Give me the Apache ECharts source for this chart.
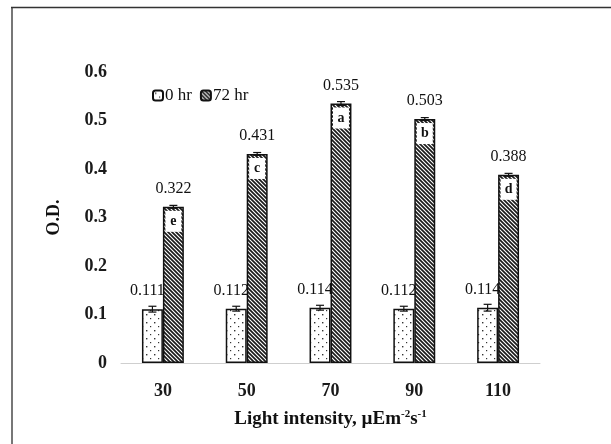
<!DOCTYPE html>
<html><head><meta charset="utf-8">
<script src="https://cdn.jsdelivr.net/npm/echarts@6/dist/echarts.min.js"></script>
<style>html,body{margin:0;padding:0;background:#fff}#c{width:611px;height:444px}</style>
</head><body><div id="c"></div>
<script>
var categories = ['30', '50', '70', '90', '110'];
var seriesNames = ['0 hr', '72 hr'];
var values0 = [0.111, 0.112, 0.114, 0.112, 0.114];
var values72 = [0.322, 0.431, 0.535, 0.503, 0.388];
var err0 = [0.006, 0.005, 0.005, 0.005, 0.007];
var err72 = [0.003, 0.003, 0.004, 0.003, 0.003];
var letters72 = ['e', 'c', 'a', 'b', 'd'];
var yTicks = [0, 0.1, 0.2, 0.3, 0.4, 0.5, 0.6];

function dotPattern() {
  var c = document.createElement('canvas'); c.width = 8; c.height = 8;
  var g = c.getContext('2d');
  g.fillStyle = '#fff'; g.fillRect(0, 0, 8, 8);
  g.fillStyle = '#333';
  g.fillRect(2, 2, 1.4, 1.4);
  g.fillRect(6, 6, 1.2, 1.2);
  return c;
}
function hatchPattern() {
  var s = 4;
  var c = document.createElement('canvas'); c.width = s; c.height = s;
  var g = c.getContext('2d');
  g.fillStyle = '#fff'; g.fillRect(0, 0, s, s);
  g.strokeStyle = '#1a1a1a'; g.lineWidth = 1.7;
  g.beginPath();
  g.moveTo(-1, -1); g.lineTo(s + 1, s + 1);
  g.moveTo(-1, s - 1); g.lineTo(1, s + 1);
  g.moveTo(s - 1, -1); g.lineTo(s + 1, 1);
  g.stroke();
  return c;
}

var FONT = 'Liberation Serif';
var chart = echarts.init(document.getElementById('c'));

var errData = [];
for (var i = 0; i < categories.length; i++) {
  errData.push([i, values0[i], err0[i], 0, '']);
  errData.push([i, values72[i], err72[i], 1, letters72[i]]);
}

function renderErr(params, api) {
  var idx = api.value(0), v = api.value(1), e = api.value(2), s = api.value(3);
  var letter = errData[params.dataIndex][4];
  var band = api.size([1, 0])[0];
  var bw = band * 0.25;
  var c = api.coord([idx, v]);
  var x = c[0] + (s === 0 ? -bw / 2 : bw / 2);
  var top = api.coord([idx, v + e])[1];
  var bot = api.coord([idx, v - e])[1];
  var st = { stroke: '#111', lineWidth: 1.2 };
  var children = [
    { type: 'line', shape: { x1: x, y1: top, x2: x, y2: bot }, style: st },
    { type: 'line', shape: { x1: x - 4, y1: top, x2: x + 4, y2: top }, style: st },
    { type: 'line', shape: { x1: x - 4, y1: bot, x2: x + 4, y2: bot }, style: st }
  ];
  if (letter) {
    var w = bw - 5;
    children.push({ type: 'rect', shape: { x: x - w / 2, y: c[1] + 4, width: w, height: 21 }, style: { fill: '#fff' } });
    children.push({ type: 'text', style: { text: letter, x: x, y: c[1] + 14.5, align: 'center', verticalAlign: 'middle',
      font: 'bold 14px "' + FONT + '"', fill: '#111' } });
  }
  return { type: 'group', children: children };
}

chart.setOption({
  animation: false,
  backgroundColor: '#fff',
  textStyle: { fontFamily: FONT },
  graphic: [
    { type: 'line', shape: { x1: 12, y1: 7, x2: 12, y2: 444 }, style: { stroke: '#777', lineWidth: 2 } },
    { type: 'line', shape: { x1: 11, y1: 7.5, x2: 611, y2: 7.5 }, style: { stroke: '#333', lineWidth: 1.5 } }
  ],
  legend: {
    left: 147, top: 82, itemWidth: 10, itemHeight: 10, itemGap: 8,
    data: seriesNames,
    textStyle: { fontFamily: FONT, fontSize: 17, color: '#111', padding: [0, 0, 0, -3] }
  },
  grid: { left: 121, right: 71, top: 72, bottom: 81 },
  xAxis: {
    type: 'category', data: categories,
    axisLine: { lineStyle: { color: '#cfcfcf', width: 1 } },
    axisTick: { show: false },
    axisLabel: { fontFamily: FONT, fontSize: 18, fontWeight: 'bold', color: '#1a1a1a', margin: 19 },
    name: '{a|Light intensity, µEm}{s|-2}{a|s}{s|-1}',
    nameLocation: 'middle', nameGap: 46,
    nameTextStyle: {
      rich: {
        a: { fontFamily: FONT, fontSize: 19, fontWeight: 'bold', color: '#111' },
        s: { fontFamily: FONT, fontSize: 11, fontWeight: 'bold', color: '#111', padding: [0, 0, 9, 0] }
      }
    }
  },
  yAxis: {
    type: 'value', min: 0, max: 0.6, interval: 0.1,
    splitLine: { show: false }, axisLine: { show: false }, axisTick: { show: false },
    axisLabel: { fontFamily: FONT, fontSize: 18, fontWeight: 'bold', color: '#1a1a1a', margin: 14,
      formatter: function (v) { var t = yTicks.filter(function (k) { return Math.abs(k - v) < 1e-9; })[0]; return String(t === undefined ? +v.toFixed(1) : t); } },
    name: 'O.D.', nameLocation: 'middle', nameGap: 58,
    nameTextStyle: { fontFamily: FONT, fontSize: 18, fontWeight: 'bold', color: '#111' }
  },
  series: [
    {
      name: seriesNames[0], type: 'bar', data: values0, barWidth: '25%', barGap: '0%',
      itemStyle: { color: { image: dotPattern(), repeat: 'repeat' }, borderColor: '#111', borderWidth: 1.5 },
      label: { show: true, position: 'top', distance: 10, offset: [-5, 0], fontFamily: FONT, fontSize: 16, color: '#111',
        formatter: function (p) { return values0[p.dataIndex].toFixed(3); } }
    },
    {
      name: seriesNames[1], type: 'bar', data: values72, barWidth: '25%', barGap: '0%',
      itemStyle: { color: { image: hatchPattern(), repeat: 'repeat' }, borderColor: '#111', borderWidth: 1.5 },
      label: { show: true, position: 'top', distance: 10, fontFamily: FONT, fontSize: 16, color: '#111',
        formatter: function (p) { return values72[p.dataIndex].toFixed(3); } }
    },
    {
      type: 'custom', renderItem: renderErr, data: errData, z: 10, silent: true,
      encode: { x: 0, y: 1 }
    }
  ]
});
</script></body></html>
